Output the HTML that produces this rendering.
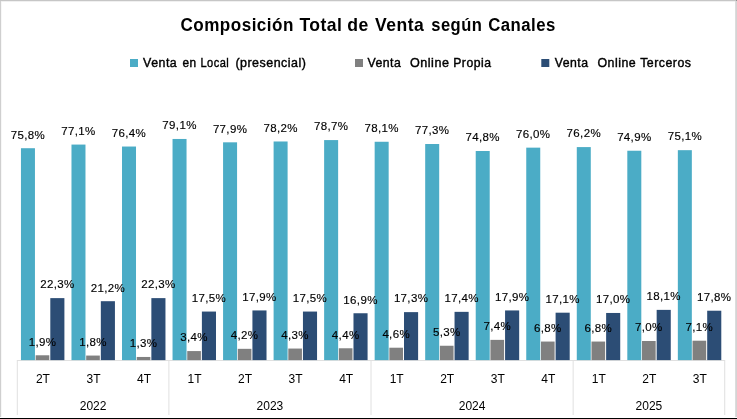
<!DOCTYPE html>
<html><head><meta charset="utf-8"><style>
html,body{margin:0;padding:0;background:#fff;}
svg{display:block;will-change:transform;}
text{font-family:"Liberation Sans",sans-serif;fill:#000;}
.lb{font-size:11.5px;text-anchor:middle;letter-spacing:0.35px;stroke:#000;stroke-width:0.15px;}
.ax{font-size:12px;text-anchor:middle;}
.lg{font-size:12.5px;white-space:pre;stroke:#000;stroke-width:0.4px;letter-spacing:0.5px;}
.tt{font-size:18px;font-weight:bold;letter-spacing:0.5px;}
</style></head><body>
<svg width="737" height="419" viewBox="0 0 737 419">
<rect x="0" y="0" width="737" height="419" fill="#fff"/>
<text class="tt" transform="translate(180.45,30.6) scale(0.9496,1)">Composición</text>
<text class="tt" transform="translate(299.40,30.6) scale(0.9762,1)">Total</text>
<text class="tt" transform="translate(347.22,30.6) scale(0.9800,1)">de</text>
<text class="tt" transform="translate(375.10,30.6) scale(0.9760,1)">Venta</text>
<text class="tt" transform="translate(431.28,30.6) scale(0.9189,1)">según</text>
<text class="tt" transform="translate(488.27,30.6) scale(0.9314,1)">Canales</text>
<rect x="130" y="59" width="8" height="8" fill="#4bacc6"/>
<rect x="355" y="59" width="8" height="8" fill="#808080"/>
<rect x="541.3" y="59" width="8" height="8" fill="#2c4d75"/>
<text class="lg" transform="translate(143.10,66.7) scale(0.9912,1)">Venta</text>
<text class="lg" transform="translate(182.50,66.7) scale(0.9500,1)">en</text>
<text class="lg" transform="translate(200.51,66.7) scale(0.8867,1)">Local</text>
<text class="lg" transform="translate(235.40,66.7) scale(0.9971,1)">(presencial)</text>
<text class="lg" transform="translate(367.46,66.7) scale(0.9835,1)">Venta</text>
<text class="lg" transform="translate(410.00,66.7) scale(1.0079,1)">Online</text>
<text class="lg" transform="translate(453.22,66.7) scale(0.9763,1)">Propia</text>
<text class="lg" transform="translate(554.70,66.7) scale(0.9824,1)">Venta</text>
<text class="lg" transform="translate(597.40,66.7) scale(0.9921,1)">Online</text>
<text class="lg" transform="translate(640.20,66.7) scale(0.9882,1)">Terceros</text>
<rect x="17" y="360" width="708" height="1" fill="#e0e0e0"/>
<rect x="20.95" y="148.21" width="14.0" height="211.89" fill="#4bacc6"/>
<rect x="35.65" y="355.28" width="13.65" height="4.82" fill="#808080"/>
<rect x="50.30" y="298.12" width="14.1" height="61.98" fill="#2c4d75"/>
<rect x="71.48" y="144.57" width="14.0" height="215.53" fill="#4bacc6"/>
<rect x="86.18" y="355.56" width="13.65" height="4.54" fill="#808080"/>
<rect x="100.83" y="301.20" width="14.1" height="58.90" fill="#2c4d75"/>
<rect x="122.01" y="146.53" width="14.0" height="213.57" fill="#4bacc6"/>
<rect x="136.71" y="356.96" width="13.65" height="3.14" fill="#808080"/>
<rect x="151.36" y="298.12" width="14.1" height="61.98" fill="#2c4d75"/>
<rect x="172.54" y="138.96" width="14.0" height="221.14" fill="#4bacc6"/>
<rect x="187.24" y="351.07" width="13.65" height="9.03" fill="#808080"/>
<rect x="201.89" y="311.56" width="14.1" height="48.54" fill="#2c4d75"/>
<rect x="223.07" y="142.32" width="14.0" height="217.78" fill="#4bacc6"/>
<rect x="237.77" y="348.83" width="13.65" height="11.27" fill="#808080"/>
<rect x="252.42" y="310.44" width="14.1" height="49.66" fill="#2c4d75"/>
<rect x="273.60" y="141.48" width="14.0" height="218.62" fill="#4bacc6"/>
<rect x="288.30" y="348.55" width="13.65" height="11.55" fill="#808080"/>
<rect x="302.95" y="311.56" width="14.1" height="48.54" fill="#2c4d75"/>
<rect x="324.13" y="140.08" width="14.0" height="220.02" fill="#4bacc6"/>
<rect x="338.83" y="348.27" width="13.65" height="11.83" fill="#808080"/>
<rect x="353.48" y="313.25" width="14.1" height="46.85" fill="#2c4d75"/>
<rect x="374.66" y="141.76" width="14.0" height="218.34" fill="#4bacc6"/>
<rect x="389.36" y="347.71" width="13.65" height="12.39" fill="#808080"/>
<rect x="404.01" y="312.13" width="14.1" height="47.97" fill="#2c4d75"/>
<rect x="425.19" y="144.01" width="14.0" height="216.09" fill="#4bacc6"/>
<rect x="439.89" y="345.75" width="13.65" height="14.35" fill="#808080"/>
<rect x="454.54" y="311.85" width="14.1" height="48.25" fill="#2c4d75"/>
<rect x="475.72" y="151.01" width="14.0" height="209.09" fill="#4bacc6"/>
<rect x="490.42" y="339.87" width="13.65" height="20.23" fill="#808080"/>
<rect x="505.07" y="310.44" width="14.1" height="49.66" fill="#2c4d75"/>
<rect x="526.25" y="147.65" width="14.0" height="212.45" fill="#4bacc6"/>
<rect x="540.95" y="341.55" width="13.65" height="18.55" fill="#808080"/>
<rect x="555.60" y="312.69" width="14.1" height="47.41" fill="#2c4d75"/>
<rect x="576.78" y="147.09" width="14.0" height="213.01" fill="#4bacc6"/>
<rect x="591.48" y="341.55" width="13.65" height="18.55" fill="#808080"/>
<rect x="606.13" y="312.97" width="14.1" height="47.13" fill="#2c4d75"/>
<rect x="627.31" y="150.73" width="14.0" height="209.37" fill="#4bacc6"/>
<rect x="642.01" y="340.99" width="13.65" height="19.11" fill="#808080"/>
<rect x="656.66" y="309.88" width="14.1" height="50.22" fill="#2c4d75"/>
<rect x="677.84" y="150.17" width="14.0" height="209.93" fill="#4bacc6"/>
<rect x="692.54" y="340.71" width="13.65" height="19.39" fill="#808080"/>
<rect x="707.19" y="310.72" width="14.1" height="49.38" fill="#2c4d75"/>
<rect x="16.80" y="360" width="1" height="55" fill="#e0e0e0"/>
<rect x="168.39" y="360" width="1" height="55" fill="#e0e0e0"/>
<rect x="370.51" y="360" width="1" height="55" fill="#e0e0e0"/>
<rect x="572.63" y="360" width="1" height="55" fill="#e0e0e0"/>
<rect x="724.22" y="360" width="1" height="55" fill="#e0e0e0"/>
<text x="27.95" y="138.51" class="lb">75,8%</text>
<text x="42.48" y="345.58" class="lb">1,9%</text>
<text x="57.35" y="288.42" class="lb">22,3%</text>
<text x="42.96" y="383" class="ax">2T</text>
<text x="78.48" y="134.87" class="lb">77,1%</text>
<text x="93.01" y="345.86" class="lb">1,8%</text>
<text x="107.88" y="291.50" class="lb">21,2%</text>
<text x="93.50" y="383" class="ax">3T</text>
<text x="129.01" y="136.83" class="lb">76,4%</text>
<text x="143.53" y="347.26" class="lb">1,3%</text>
<text x="158.41" y="288.42" class="lb">22,3%</text>
<text x="144.03" y="383" class="ax">4T</text>
<text x="179.54" y="129.26" class="lb">79,1%</text>
<text x="194.06" y="341.37" class="lb">3,4%</text>
<text x="208.94" y="301.87" class="lb">17,5%</text>
<text x="194.56" y="383" class="ax">1T</text>
<text x="230.07" y="132.62" class="lb">77,9%</text>
<text x="244.59" y="339.13" class="lb">4,2%</text>
<text x="259.47" y="300.74" class="lb">17,9%</text>
<text x="245.09" y="383" class="ax">2T</text>
<text x="280.60" y="131.78" class="lb">78,2%</text>
<text x="295.12" y="338.85" class="lb">4,3%</text>
<text x="310.00" y="301.87" class="lb">17,5%</text>
<text x="295.61" y="383" class="ax">3T</text>
<text x="331.13" y="130.38" class="lb">78,7%</text>
<text x="345.66" y="338.57" class="lb">4,4%</text>
<text x="360.53" y="303.55" class="lb">16,9%</text>
<text x="346.14" y="383" class="ax">4T</text>
<text x="381.66" y="132.06" class="lb">78,1%</text>
<text x="396.19" y="338.01" class="lb">4,6%</text>
<text x="411.06" y="302.43" class="lb">17,3%</text>
<text x="396.68" y="383" class="ax">1T</text>
<text x="432.19" y="134.31" class="lb">77,3%</text>
<text x="446.72" y="336.05" class="lb">5,3%</text>
<text x="461.59" y="302.15" class="lb">17,4%</text>
<text x="447.20" y="383" class="ax">2T</text>
<text x="482.72" y="141.31" class="lb">74,8%</text>
<text x="497.25" y="330.17" class="lb">7,4%</text>
<text x="512.12" y="300.74" class="lb">17,9%</text>
<text x="497.73" y="383" class="ax">3T</text>
<text x="533.25" y="137.95" class="lb">76,0%</text>
<text x="547.78" y="331.85" class="lb">6,8%</text>
<text x="562.65" y="302.99" class="lb">17,1%</text>
<text x="548.26" y="383" class="ax">4T</text>
<text x="583.78" y="137.39" class="lb">76,2%</text>
<text x="598.31" y="331.85" class="lb">6,8%</text>
<text x="613.18" y="303.27" class="lb">17,0%</text>
<text x="598.79" y="383" class="ax">1T</text>
<text x="634.31" y="141.03" class="lb">74,9%</text>
<text x="648.84" y="331.29" class="lb">7,0%</text>
<text x="663.71" y="300.18" class="lb">18,1%</text>
<text x="649.32" y="383" class="ax">2T</text>
<text x="684.84" y="140.47" class="lb">75,1%</text>
<text x="699.37" y="331.01" class="lb">7,1%</text>
<text x="714.24" y="301.02" class="lb">17,8%</text>
<text x="699.85" y="383" class="ax">3T</text>
<text x="93.09" y="409.5" class="ax">2022</text>
<text x="269.95" y="409.5" class="ax">2023</text>
<text x="472.07" y="409.5" class="ax">2024</text>
<text x="648.92" y="409.5" class="ax">2025</text>
<rect x="0" y="0" width="1" height="417" fill="#cfcfcf"/>
<rect x="1" y="1" width="1" height="416" fill="#f7f7f7"/>
<rect x="735" y="0" width="1" height="417" fill="#dcdcdc"/>
<rect x="736" y="0" width="1" height="417" fill="#d4d4d4"/>
<rect x="0" y="0" width="736" height="1" fill="#c6c6c6"/>
<rect x="1" y="1" width="734" height="1" fill="#f0f0f0"/>
<rect x="736" y="0" width="1" height="1" fill="#909090"/>
<rect x="0" y="418" width="737" height="1" fill="#000"/>
</svg>
</body></html>
